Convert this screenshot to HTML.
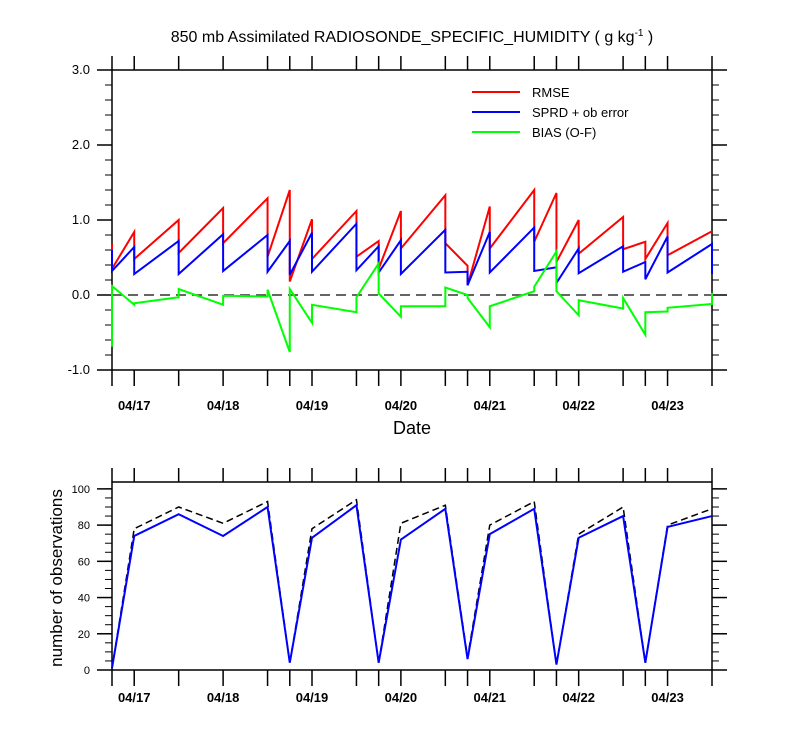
<!DOCTYPE html>
<html><head><meta charset="utf-8"><style>
body{margin:0;background:#fff}
svg{display:block;font-family:"Liberation Sans",sans-serif}
</style></head><body>
<svg id="c" width="800" height="750" viewBox="0 0 800 750">
<text x="412" y="42" text-anchor="middle" font-size="16">850 mb Assimilated RADIOSONDE_SPECIFIC_HUMIDITY ( g kg<tspan dy="-6" font-size="10">-1</tspan><tspan dy="6"> )</tspan></text>
<text x="412" y="434" text-anchor="middle" font-size="18">Date</text>
<text transform="translate(62,578) rotate(-90)" text-anchor="middle" font-size="17">number of observations</text>
<g>
<line x1="472" y1="92" x2="520" y2="92" stroke="#f00" stroke-width="2"/><text x="532" y="97" font-size="13">RMSE</text>
<line x1="472" y1="112" x2="520" y2="112" stroke="#00f" stroke-width="2"/><text x="532" y="117" font-size="13">SPRD + ob error</text>
<line x1="472" y1="132" x2="520" y2="132" stroke="#0f0" stroke-width="2"/><text x="532" y="137" font-size="13">BIAS (O-F)</text>
</g>
</svg>
<script>
// times in hours since 04/16 18Z
const times=[0,6,18,30,42,48,54,66,72,78,90,96,102,114,120,126,138,144,150,162];
const rmseIn=[0.69,0.84,1.0,1.16,1.29,1.40,1.01,1.12,0.72,1.12,1.33,0.39,1.18,1.40,1.36,1.0,1.04,0.71,0.96,0.85];
const rmseOut=[0.35,0.48,0.56,0.69,0.51,0.18,0.48,0.51,0.35,0.62,0.69,0.13,0.62,0.71,0.44,0.55,0.61,0.48,0.53,0.85];
const sprdIn=[0.60,0.64,0.72,0.81,0.80,0.72,0.83,0.95,0.65,0.73,0.87,0.31,0.84,0.90,0.37,0.62,0.65,0.44,0.78,0.68];
const sprdOut=[0.32,0.28,0.28,0.32,0.31,0.27,0.31,0.33,0.30,0.28,0.30,0.13,0.30,0.32,0.16,0.29,0.31,0.21,0.30,0.28];
const biasIn=[-0.69,-0.13,-0.03,-0.13,-0.02,-0.76,-0.37,-0.23,0.42,-0.29,-0.15,0.0,-0.43,0.05,0.58,-0.27,-0.18,-0.53,-0.22,-0.12];
const biasOut=[0.12,-0.11,0.08,-0.01,0.07,0.08,-0.13,-0.03,0.02,-0.15,0.10,-0.04,-0.15,0.11,0.05,-0.07,-0.04,-0.23,-0.17,0.03];
const obsUsed=[1,74,86,74,90,4,73,91,4,72,89,6,75,89,3,73,85,4,79,85];
const obsTotal=[1,78,90,81,93,4,78,94,4,81,91,7,80,93,3,75,90,4,80,89];
const dayLabels=["04/17","04/18","04/19","04/20","04/21","04/22","04/23"];
const dayHours=[6,30,54,78,102,126,150];
const topTicks=[3.0,2.0,1.0,0.0,-1.0];
const botTicks=[0,20,40,60,80,100];

const svg=document.getElementById('c');
const NS='http://www.w3.org/2000/svg';
function mk(t,a,p){const e=document.createElementNS(NS,t);for(const k in a)e.setAttribute(k,a[k]);(p||svg).appendChild(e);return e;}
const X0=112,X1=712,H=162;
const sx=h=>X0+(h/H)*(X1-X0);
const T={top:70,bot:370,min:-1,max:3};
const B={top:482,bot:670,min:0,max:103.8};
const sy1=v=>T.bot-(v-T.min)/(T.max-T.min)*(T.bot-T.top);
const sy2=v=>B.bot-(v-B.min)/(B.max-B.min)*(B.bot-B.top);

function frame(P,sy,maj,minStep,fmt,name,labOff){
  const g=mk('g',{});
  
  
  mk('rect',{x:X0,y:P.top,width:X1-X0,height:P.bot-P.top,fill:'none',stroke:'#000','stroke-width':1.5},g);
  times.forEach(t=>{const x=sx(t);
    mk('line',{x1:x,y1:P.top,x2:x,y2:P.top-14,stroke:'#000','stroke-width':1.5},g);
    mk('line',{x1:x,y1:P.bot,x2:x,y2:P.bot+16,stroke:'#000','stroke-width':1.5},g);});
  for(let v=P.min;v<=P.max+1e-6;v+=minStep){const y=sy(v);
    mk('line',{x1:X0,y1:y,x2:X0-7,y2:y,stroke:'#000'},g);
    mk('line',{x1:X1,y1:y,x2:X1+7,y2:y,stroke:'#000'},g);}
  maj.forEach(v=>{const y=sy(v);
    mk('line',{x1:X0,y1:y,x2:X0-15,y2:y,stroke:'#000','stroke-width':1.5},g);
    mk('line',{x1:X1,y1:y,x2:X1+15,y2:y,stroke:'#000','stroke-width':1.5},g);
    const tx=mk('text',{x:X0-22,y:y+4,'text-anchor':'end','font-size':name==='top'?13:11},g);
    tx.textContent=fmt(v);
    
    });
  dayLabels.forEach((d,i)=>{const tx=mk('text',{x:sx(dayHours[i]),y:P.bot+labOff,'text-anchor':'middle','font-size':13,'font-weight':'bold'},g);
    tx.textContent=d;
    
    });
}
frame(T,sy1,topTicks,0.2,v=>v.toFixed(1),'top',40);
frame({top:B.top,bot:B.bot,min:0,max:100},sy2,botTicks,5,v=>String(v),'bottom',32);

const zl=mk('line',{x1:X0,y1:sy1(0),x2:X1,y2:sy1(0),stroke:'#333','stroke-width':1.5,'stroke-dasharray':'10,6'});



function saw(a,b,col,name){
  let d='';
  times.forEach((t,i)=>{const x=sx(t);d+=(i?'L':'M')+x+','+sy1(a[i])+'L'+x+','+sy1(b[i]);});
  const p=mk('path',{d:d,fill:'none',stroke:col,'stroke-width':2});
  
  
}
saw(rmseIn,rmseOut,'#f00','rmse-line');
saw(sprdIn,sprdOut,'#00f','sprd-line');
saw(biasIn,biasOut,'#0f0','bias-line');

function line(v,col,dash,name,w){
  const d=times.map((t,i)=>(i?'L':'M')+sx(t)+','+sy2(v[i])).join('');
  const p=mk('path',{d:d,fill:'none',stroke:col,'stroke-width':w,'stroke-dasharray':dash});
  
  
}
line(obsTotal,'#000','7,4','obs-total-line',1.5);
line(obsUsed,'#00f','none','obs-used-line',2);
</script>
</body></html>
